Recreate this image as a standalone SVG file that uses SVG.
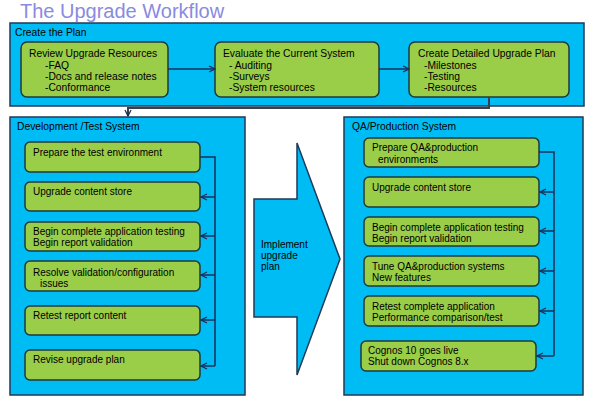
<svg xmlns="http://www.w3.org/2000/svg" width="599" height="405" viewBox="0 0 599 405">
<style>
.panel{fill:#00BCF5;stroke:#1e3a58;stroke-width:1.5}
.box{fill:#9ACD48;stroke:#1c3a3c;stroke-width:1.5}
.t{font-family:"Liberation Sans",Arial,sans-serif;font-size:10px;fill:#000}
.tt{font-family:"Liberation Sans",Arial,sans-serif;font-size:10.3px;fill:#000}
.c{fill:none;stroke:#1a2f5a;stroke-width:1.5}
</style>
<defs>
<marker id="ah" markerWidth="8" markerHeight="8" refX="7" refY="4" orient="auto" markerUnits="userSpaceOnUse">
<path d="M1,1 L7,4 L1,7" fill="none" stroke="#1a2f5a" stroke-width="1.3"/>
</marker>
</defs>
<rect width="599" height="405" fill="#fff"/>
<text x="20" y="18" font-family="Liberation Sans,Arial,sans-serif" font-size="20" fill="#8a8ae0">The Upgrade Workflow</text>

<g id="panel-plan">
<rect class="panel" x="10" y="23" width="574" height="83"/>
<text class="tt" x="15" y="36">Create the Plan</text>
</g>
<g id="panel-dev">
<rect class="panel" x="10" y="117" width="235" height="278"/>
<text class="tt" x="17" y="130">Development /Test System</text>
</g>
<g id="panel-qa">
<rect class="panel" x="344" y="117" width="239" height="278"/>
<text class="tt" x="352" y="130">QA/Production System</text>
</g>

<g id="implement-arrow">
<polygon points="297,143 340,259 297,375 297,317 254,317 254,199 297,199" fill="#00BCF5" stroke="#1e3a58" stroke-width="1.5"/>
<text class="t" font-size="10.5" x="261" y="248">Implement</text>
<text class="t" font-size="10.5" x="261" y="259">upgrade</text>
<text class="t" font-size="10.5" x="261" y="270">plan</text>
</g>

<g id="review">
<rect class="box" x="21" y="42" width="147" height="55" rx="6"/>
<text class="tt" x="29" y="57">Review Upgrade Resources</text>
<text class="tt" x="45" y="69">-FAQ</text>
<text class="tt" x="45" y="80">-Docs and release notes</text>
<text class="tt" x="45" y="91">-Conformance</text>
</g>
<g id="evaluate">
<rect class="box" x="215" y="42" width="164" height="55" rx="6"/>
<text class="tt" x="223" y="57">Evaluate the Current System</text>
<text class="tt" x="229" y="69">- Auditing</text>
<text class="tt" x="229" y="80">-Surveys</text>
<text class="tt" x="229" y="91">-System resources</text>
</g>
<g id="detailed">
<rect class="box" x="409" y="42" width="160" height="55" rx="6"/>
<text class="tt" x="418" y="57">Create Detailed Upgrade Plan</text>
<text class="tt" x="424" y="69">-Milestones</text>
<text class="tt" x="424" y="80">-Testing</text>
<text class="tt" x="424" y="91">-Resources</text>
</g>

<g id="dev1"><rect class="box" x="25" y="142" width="175" height="30" rx="5"/><text class="t" x="33" y="156">Prepare the test environment</text></g>
<g id="dev2"><rect class="box" x="25" y="182" width="175" height="29" rx="5"/><text class="t" x="33" y="195">Upgrade content store</text></g>
<g id="dev3"><rect class="box" x="25" y="222" width="175" height="29" rx="5"/><text class="t" x="33" y="235">Begin complete application testing</text><text class="t" x="33" y="246">Begin report validation</text></g>
<g id="dev4"><rect class="box" x="25" y="261" width="175" height="30" rx="5"/><text class="t" x="33" y="276">Resolve validation/configuration</text><text class="t" x="40" y="287">issues</text></g>
<g id="dev5"><rect class="box" x="25" y="306" width="175" height="29" rx="5"/><text class="t" x="33" y="319">Retest report content</text></g>
<g id="dev6"><rect class="box" x="25" y="350" width="175" height="30" rx="5"/><text class="t" x="33" y="363">Revise upgrade plan</text></g>

<g id="qa1"><rect class="box" x="364" y="138" width="175" height="29" rx="5"/><text class="t" x="372" y="151">Prepare  QA&amp;production</text><text class="t" x="378" y="163">environments</text></g>
<g id="qa2"><rect class="box" x="364" y="177" width="175" height="30" rx="5"/><text class="t" x="372" y="191">Upgrade content store</text></g>
<g id="qa3"><rect class="box" x="364" y="217" width="175" height="29" rx="5"/><text class="t" x="372" y="231">Begin complete application testing</text><text class="t" x="372" y="242">Begin report validation</text></g>
<g id="qa4"><rect class="box" x="364" y="256" width="175" height="30" rx="5"/><text class="t" x="372" y="270">Tune QA&amp;production systems</text><text class="t" x="372" y="281">New features</text></g>
<g id="qa5"><rect class="box" x="364" y="296" width="175" height="30" rx="5"/><text class="t" x="372" y="310">Retest complete application</text><text class="t" x="372" y="321">Performance comparison/test</text></g>
<g id="qa6"><rect class="box" x="361" y="341" width="175" height="30" rx="5"/><text class="t" x="368" y="354">Cognos 10 goes live</text><text class="t" x="368" y="365">Shut down Cognos 8.x</text></g>

<g id="connectors">
<path class="c" d="M168,69 H215" marker-end="url(#ah)"/>
<path class="c" d="M379,69 H409" marker-end="url(#ah)"/>
<path d="M489,97 V108 H128 V116" fill="none" stroke="#3a3f48" stroke-width="2" marker-end="url(#ah)"/>
<path class="c" d="M200,157 H215 V366"/>
<path class="c" d="M215,197 H201" marker-end="url(#ah)"/>
<path class="c" d="M215,236 H201" marker-end="url(#ah)"/>
<path class="c" d="M215,275 H201" marker-end="url(#ah)"/>
<path class="c" d="M215,320 H201" marker-end="url(#ah)"/>
<path class="c" d="M215,366 H201" marker-end="url(#ah)"/>
<path class="c" d="M539,152 H554 V356"/>
<path class="c" d="M554,192 H540" marker-end="url(#ah)"/>
<path class="c" d="M554,231 H540" marker-end="url(#ah)"/>
<path class="c" d="M554,271 H540" marker-end="url(#ah)"/>
<path class="c" d="M554,311 H540" marker-end="url(#ah)"/>
<path class="c" d="M554,356 H537" marker-end="url(#ah)"/>
</g>
</svg>
